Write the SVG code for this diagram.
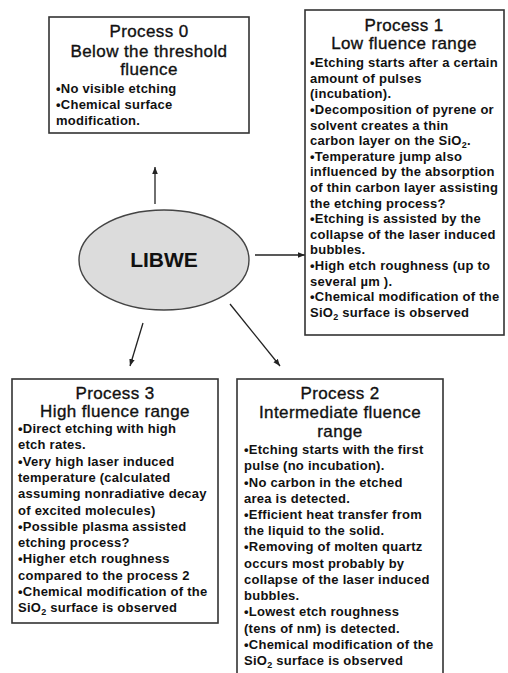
<svg xmlns="http://www.w3.org/2000/svg" width="508" height="673" viewBox="0 0 508 673">
<style>
.box{fill:#fff;stroke:#333;stroke-width:1.6}
.h{font-family:"Liberation Sans",Arial,sans-serif;font-size:17px;fill:#111;stroke:#111;stroke-width:0.35;text-anchor:middle;letter-spacing:0.4px}
.b{font-family:"Liberation Sans",Arial,sans-serif;font-size:13px;font-weight:bold;fill:#111;letter-spacing:0.25px}
.sub{font-size:9px}
.conn{stroke:#222;stroke-width:1.3;fill:none;marker-end:url(#ah)}
</style>
<defs>
<marker id="ah" viewBox="0 0 10 10" refX="10" refY="5" markerWidth="7" markerHeight="7" markerUnits="userSpaceOnUse" orient="auto">
<path d="M0,1 L10,5 L0,9 Z" fill="#222"/>
</marker>
</defs>
<rect width="508" height="673" fill="#fff"/>
<g id="connectors">
<line class="conn" x1="155" y1="204" x2="155" y2="167"/>
<line class="conn" x1="255" y1="255" x2="305" y2="255"/>
<line class="conn" x1="143" y1="323" x2="130" y2="366"/>
<line class="conn" x1="230" y1="304" x2="280" y2="366"/>
</g>
<g id="libwe">
<ellipse cx="164" cy="260" rx="85" ry="50" fill="#dcdcdc" stroke="#444" stroke-width="1.4"/>
<text x="164" y="267" font-family="Liberation Sans,Arial,sans-serif" font-size="21" font-weight="bold" fill="#111" text-anchor="middle">LIBWE</text>
</g>
<g id="process0">
<rect class="box" x="49" y="17" width="200" height="116"/>
<text class="h" x="149" y="37">Process 0</text>
<text class="h" x="149" y="57">Below the threshold</text>
<text class="h" x="149" y="75">fluence</text>
<text class="b" x="56" y="93">•No visible etching</text>
<text class="b" x="56" y="109">•Chemical surface</text>
<text class="b" x="56" y="125">modification.</text>
</g>
<g id="process1">
<rect class="box" x="305" y="10" width="199" height="325"/>
<text class="h" x="404" y="31">Process 1</text>
<text class="h" x="404" y="49">Low fluence range</text>
<text class="b" x="310" y="67">•Etching starts after a certain</text>
<text class="b" x="310" y="82.6">amount of pulses</text>
<text class="b" x="310" y="98.2">(incubation).</text>
<text class="b" x="310" y="113.9">•Decomposition of pyrene or</text>
<text class="b" x="310" y="129.5">solvent creates a  thin</text>
<text class="b" x="310" y="145.1">carbon layer on the SiO<tspan class="sub" dy="3">2</tspan><tspan dy="-3">.</tspan></text>
<text class="b" x="310" y="160.7">•Temperature jump also</text>
<text class="b" x="310" y="176.3">influenced by the absorption</text>
<text class="b" x="310" y="191.9">of thin carbon layer assisting</text>
<text class="b" x="310" y="207.6">the etching process?</text>
<text class="b" x="310" y="223.2">•Etching is  assisted by the</text>
<text class="b" x="310" y="238.8">collapse of the laser induced</text>
<text class="b" x="310" y="254.4">bubbles.</text>
<text class="b" x="310" y="270">•High etch roughness (up to</text>
<text class="b" x="310" y="285.6">several µm ).</text>
<text class="b" x="310" y="301.3">•Chemical modification of the</text>
<text class="b" x="310" y="316.9">SiO<tspan class="sub" dy="3">2</tspan><tspan dy="-3">  surface is observed</tspan></text>
</g>
<g id="process3">
<rect class="box" x="12" y="379" width="206" height="244"/>
<text class="h" x="115" y="399">Process 3</text>
<text class="h" x="115" y="417">High fluence range</text>
<text class="b" x="18" y="433">•Direct etching with  high</text>
<text class="b" x="18" y="449.3">etch rates.</text>
<text class="b" x="18" y="465.6">•Very high laser induced</text>
<text class="b" x="18" y="481.9">temperature (calculated</text>
<text class="b" x="18" y="498.2">assuming nonradiative decay</text>
<text class="b" x="18" y="514.5">of excited molecules)</text>
<text class="b" x="18" y="530.8">•Possible plasma assisted</text>
<text class="b" x="18" y="547.1">etching process?</text>
<text class="b" x="18" y="563.4">•Higher etch roughness</text>
<text class="b" x="18" y="579.7">compared to the process 2</text>
<text class="b" x="18" y="596">•Chemical modification of the</text>
<text class="b" x="18" y="612.3">SiO<tspan class="sub" dy="3">2</tspan><tspan dy="-3">  surface is observed</tspan></text>
</g>
<g id="process2">
<rect class="box" x="237" y="379" width="206" height="310"/>
<text class="h" x="340" y="399">Process 2</text>
<text class="h" x="340" y="418">Intermediate fluence</text>
<text class="h" x="340" y="437">range</text>
<text class="b" x="244" y="454">•Etching starts with the first</text>
<text class="b" x="244" y="470.2">pulse (no incubation).</text>
<text class="b" x="244" y="486.5">•No carbon in the etched</text>
<text class="b" x="244" y="502.7">area is detected.</text>
<text class="b" x="244" y="518.9">•Efficient heat transfer from</text>
<text class="b" x="244" y="535.2">the liquid to the solid.</text>
<text class="b" x="244" y="551.4">•Removing of molten quartz</text>
<text class="b" x="244" y="567.6">occurs most probably by</text>
<text class="b" x="244" y="583.8">collapse of the laser induced</text>
<text class="b" x="244" y="600.1">bubbles.</text>
<text class="b" x="244" y="616.3">•Lowest etch roughness</text>
<text class="b" x="244" y="632.5">(tens of nm) is detected.</text>
<text class="b" x="244" y="648.8">•Chemical modification of the</text>
<text class="b" x="244" y="665">SiO<tspan class="sub" dy="3">2</tspan><tspan dy="-3">  surface is observed</tspan></text>
</g>
</svg>
